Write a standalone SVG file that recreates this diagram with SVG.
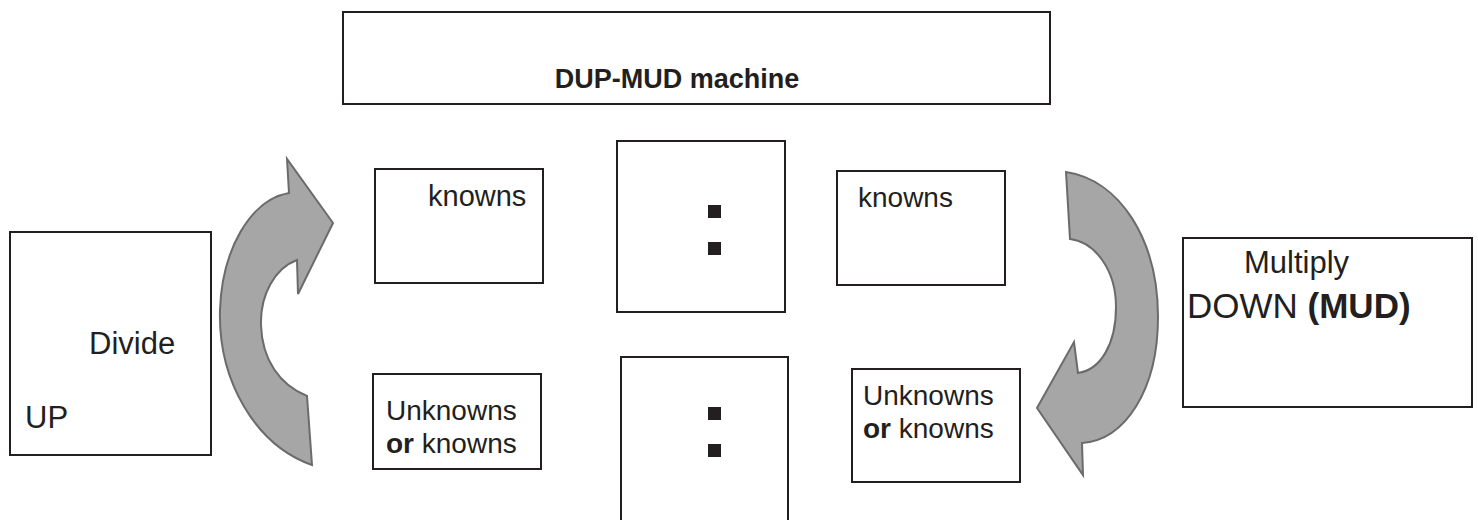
<svg xmlns="http://www.w3.org/2000/svg" width="1478" height="520" viewBox="0 0 1478 520">
<style>
.box{fill:#fff;stroke:#231f20;stroke-width:2}
.t{font-family:"Liberation Sans",Arial,sans-serif;font-size:28px;fill:#231f20}
.b{font-weight:bold}
.arrow{fill:#a6a6a6;stroke:#6b6b6b;stroke-width:2;stroke-linejoin:miter}
.dot{fill:#231f20}
</style>
<rect width="1478" height="520" fill="#fff"/>
<g id="connectors">
<path class="arrow" d="M312,465 L307,396 C280,385 262,360 261,325 C260,295 275,268 297,260 L298,294 L333,223 L287,159 L289,193 C250,200 222,250 220,310 C218,380 255,445 312,465 Z"/>
<path class="arrow" d="M1066,172 C1120,180 1158,240 1158,317 C1158,390 1125,440 1082,443 L1083,475 L1037,408 L1074,342 L1078,373 C1100,370 1116,345 1116,307 C1116,270 1095,242 1070,239 Z"/>
</g>
<g id="title">
<rect class="box" x="343" y="12" width="707" height="92"/>
<text class="t b" x="677" y="88" text-anchor="middle" style="font-size:27px">DUP-MUD machine</text>
</g>
<g id="divide-up">
<rect class="box" x="10" y="232" width="201" height="223"/>
<text class="t" x="89" y="354" style="font-size:31px">Divide</text>
<text class="t" x="25" y="428" style="font-size:31px">UP</text>
</g>
<g id="knowns-left">
<rect class="box" x="375" y="169" width="168" height="114"/>
<text class="t" x="428" y="206" style="font-size:29px">knowns</text>
</g>
<g id="unknowns-left">
<rect class="box" x="373" y="374" width="168" height="95"/>
<text class="t" x="386" y="420">Unknowns</text>
<text class="t" x="386" y="453"><tspan class="b">or</tspan> knowns</text>
</g>
<g id="ratio-top">
<rect class="box" x="617" y="141" width="168" height="171"/>
<rect class="dot" x="708" y="205" width="13" height="13"/>
<rect class="dot" x="708" y="242" width="13" height="13"/>
</g>
<g id="ratio-bottom">
<rect class="box" x="621" y="357" width="167" height="170"/>
<rect class="dot" x="708" y="407" width="13" height="13"/>
<rect class="dot" x="708" y="444" width="13" height="13"/>
</g>
<g id="knowns-right">
<rect class="box" x="837" y="171" width="168" height="114"/>
<text class="t" x="858" y="207">knowns</text>
</g>
<g id="unknowns-right">
<rect class="box" x="852" y="369" width="168" height="113"/>
<text class="t" x="863" y="405">Unknowns</text>
<text class="t" x="863" y="438"><tspan class="b">or</tspan> knowns</text>
</g>
<g id="multiply-down">
<rect class="box" x="1183" y="238" width="289" height="169"/>
<text class="t" x="1244" y="273" style="font-size:31px">Multiply</text>
<text class="t" x="1187" y="318" style="font-size:35px">DOWN <tspan class="b">(MUD)</tspan></text>
</g>
</svg>
